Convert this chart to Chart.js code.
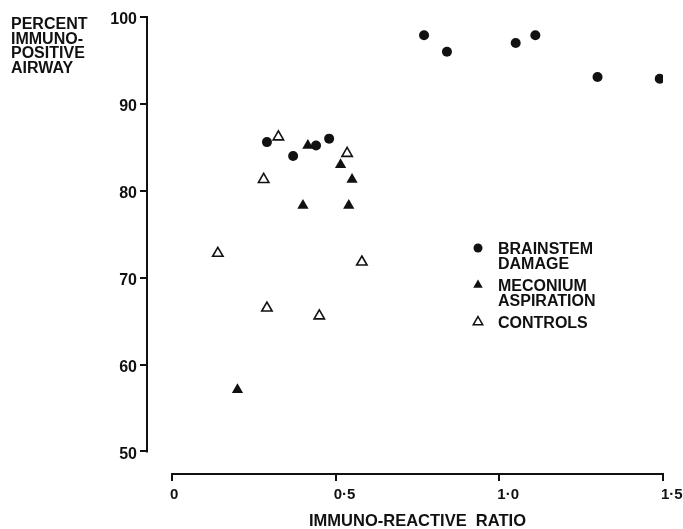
<!DOCTYPE html>
<html>
<head>
<meta charset="utf-8">
<title>Immuno-positive airway</title>
<script src="https://cdn.jsdelivr.net/npm/chart.js@4.4.1/dist/chart.umd.min.js"></script>
<style>
    html, body { margin: 0; padding: 0; background: #fff; }
    #chart { display: block; }
</style>
</head>
<body>
<canvas id="chart" width="683" height="529"></canvas>
<script>
// valores
const brainstemX = [0.29, 0.37, 0.44, 0.48, 0.77, 0.84, 1.05, 1.11, 1.30, 1.49];
const brainstemY = [85.6, 84.0, 85.2, 86.0, 97.9, 96.0, 97.0, 97.9, 93.1, 92.9];
const meconiumX = [0.20, 0.40, 0.415, 0.515, 0.54, 0.55];
const meconiumY = [57.1, 78.3, 85.2, 83.0, 78.3, 81.3];
const controlsX = [0.14, 0.28, 0.29, 0.325, 0.45, 0.535, 0.58];
const controlsY = [72.8, 81.3, 66.5, 86.2, 65.6, 84.3, 71.8];

const xTickValues = [0, 0.5, 1.0, 1.5];
const xTickLabels = ['0', '0·5', '1·0', '1·5'];
const yTickValues = [50, 60, 70, 80, 90, 100];

const seriesNames = [['BRAINSTEM', 'DAMAGE'], ['MECONIUM', 'ASPIRATION'], ['CONTROLS']];
const yTitle = ['PERCENT', 'IMMUNO-', 'POSITIVE', 'AIRWAY'];
const xTitle = 'IMMUNO-REACTIVE  RATIO';

const INK = '#111';
const FONT = '"Liberation Sans", Arial, sans-serif';

function toPoints(xs, ys) {
    return xs.map((x, i) => ({ x: x, y: ys[i] }));
}

// dibuja un marcador igual que los puntos del grafico
function marker(ctx, style, x, y) {
    ctx.save();
    ctx.fillStyle = INK;
    ctx.strokeStyle = INK;
    ctx.lineWidth = 1.5;
    ctx.beginPath();
    if (style === 'circle') {
        ctx.arc(x, y, 4.5, 0, Math.PI * 2);
        ctx.fill();
    } else {
        const r = 5.5;
        ctx.moveTo(x, y - r);
        ctx.lineTo(x + Math.sin(2 * Math.PI / 3) * r, y + r / 2);
        ctx.lineTo(x - Math.sin(2 * Math.PI / 3) * r, y + r / 2);
        ctx.closePath();
        if (style === 'filled') {
            ctx.fill();
        } else {
            ctx.fillStyle = '#fff';
            ctx.fill();
            ctx.stroke();
        }
    }
    ctx.restore();
}

// ejes, titulos y leyenda al estilo de la figura impresa
const paperDecor = {
    id: 'paperDecor',
    afterDraw(chart) {
        const ctx = chart.ctx;
        const xs = chart.scales.x;
        const ys = chart.scales.y;
        ctx.save();
        ctx.strokeStyle = INK;
        ctx.lineWidth = 2;
        ctx.beginPath();
        ctx.moveTo(xs.getPixelForValue(xTickValues[0]) - 1, xs.top);
        ctx.lineTo(xs.getPixelForValue(xTickValues[xTickValues.length - 1]) + 1, xs.top);
        ctx.moveTo(ys.right, ys.getPixelForValue(yTickValues[0]) + 1);
        ctx.lineTo(ys.right, ys.getPixelForValue(yTickValues[yTickValues.length - 1]) - 1);
        ctx.stroke();

        ctx.fillStyle = INK;
        ctx.textBaseline = 'alphabetic';
        ctx.textAlign = 'left';
        ctx.font = 'bold 16px ' + FONT;
        yTitle.forEach((line, i) => {
            ctx.fillText(line, 11, 29 + i * 14.7);
        });

        ctx.font = 'bold 16.5px ' + FONT;
        ctx.textAlign = 'center';
        const mid = (xs.getPixelForValue(xTickValues[0]) + xs.getPixelForValue(xTickValues[xTickValues.length - 1])) / 2;
        ctx.fillText(xTitle, mid, 526);

        // leyenda
        const styles = ['circle', 'filled', 'open'];
        const rowTop = [254, 291, 328];
        ctx.font = 'bold 16px ' + FONT;
        ctx.textAlign = 'left';
        seriesNames.forEach((lines, i) => {
            marker(ctx, styles[i], 478, rowTop[i] - 6);
            lines.forEach((line, j) => {
                ctx.fillText(line, 498, rowTop[i] + j * 14.5);
            });
        });
        ctx.restore();
    }
};

const CONTEXT = document.getElementById('chart').getContext('2d');
const CHART = new Chart(CONTEXT, {
    type: 'scatter',
    data: {
        datasets: [{
            label: 'Brainstem damage',
            data: toPoints(brainstemX, brainstemY),
            pointStyle: 'circle',
            pointRadius: 5,
            backgroundColor: INK,
            borderColor: INK,
            borderWidth: 0
        }, {
            label: 'Meconium aspiration',
            data: toPoints(meconiumX, meconiumY),
            pointStyle: 'triangle',
            pointRadius: 6.5,
            backgroundColor: INK,
            borderColor: INK,
            borderWidth: 0
        }, {
            label: 'Controls',
            data: toPoints(controlsX, controlsY),
            pointStyle: 'triangle',
            pointRadius: 6,
            backgroundColor: '#fff',
            borderColor: INK,
            borderWidth: 1.6
        }]
    },
    options: {
        responsive: false,
        animation: false,
        devicePixelRatio: 1,
        layout: {
            padding: { left: 102, right: 20, top: 17, bottom: 0 }
        },
        plugins: {
            legend: { display: false },
            tooltip: { enabled: false }
        },
        scales: {
            x: {
                type: 'linear',
                min: -0.0764,
                max: 1.5,
                afterFit: (scale) => {
                    scale.height = 55;
                    scale.paddingLeft = 0;
                    scale.paddingRight = 0;
                },
                afterBuildTicks: (scale) => { scale.ticks = xTickValues.map(v => ({ value: v })); },
                border: { display: false },
                grid: {
                    drawOnChartArea: false,
                    drawTicks: true,
                    tickLength: 7,
                    color: INK,
                    lineWidth: 2
                },
                ticks: {
                    align: 'start',
                    labelOffset: -2,
                    padding: 5,
                    color: INK,
                    font: { family: FONT, size: 15, weight: 'bold' },
                    callback: (value) => xTickLabels[xTickValues.indexOf(value)]
                }
            },
            y: {
                type: 'linear',
                min: 47.4,
                max: 100,
                afterFit: (scale) => {
                    scale.width = 45;
                    scale.paddingTop = 0;
                    scale.paddingBottom = 0;
                },
                afterBuildTicks: (scale) => { scale.ticks = yTickValues.map(v => ({ value: v })); },
                border: { display: false },
                grid: {
                    drawOnChartArea: false,
                    drawTicks: true,
                    tickLength: 7,
                    color: INK,
                    lineWidth: 2
                },
                ticks: {
                    labelOffset: 3,
                    padding: 3,
                    color: INK,
                    font: { family: FONT, size: 16, weight: 'bold' }
                }
            }
        }
    },
    plugins: [paperDecor]
});
</script>
</body>
</html>
